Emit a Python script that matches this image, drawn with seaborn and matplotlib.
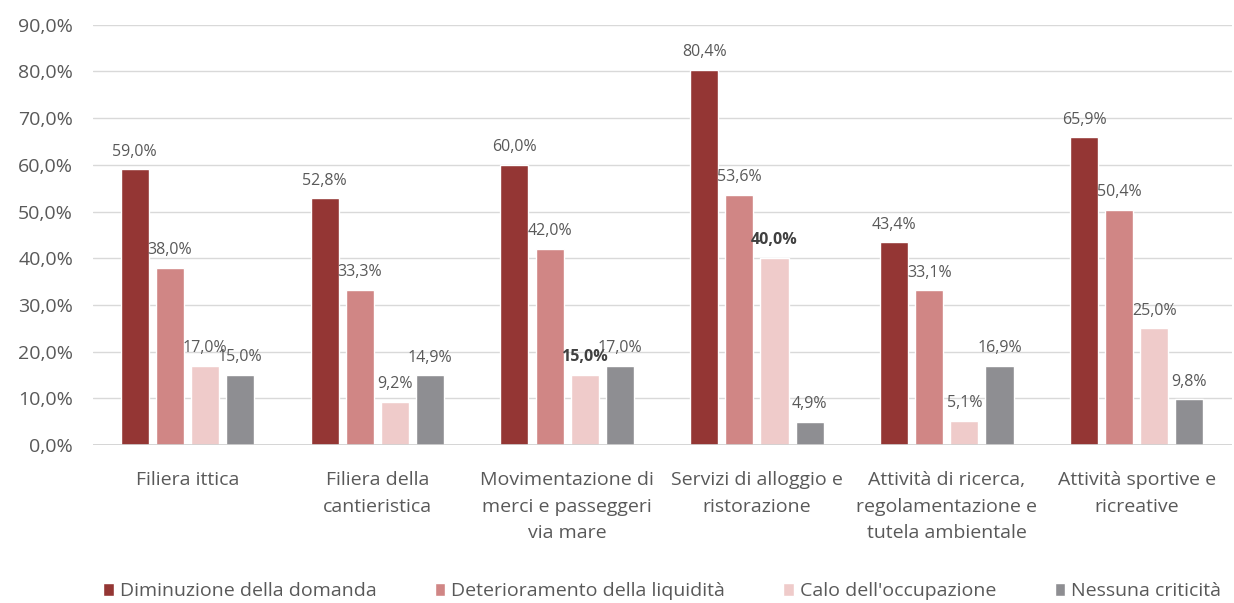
import matplotlib
matplotlib.use("Agg")
import matplotlib.pyplot as plt
import pandas as pd
import seaborn as sns

# data
categories = [
    "Filiera ittica",
    "Filiera della\ncantieristica",
    "Movimentazione di\nmerci e passeggeri\nvia mare",
    "Servizi di alloggio e\nristorazione",
    "Attività di ricerca,\nregolamentazione e\ntutela ambientale",
    "Attività sportive e\nricreative",
]
series = [
    "Diminuzione della domanda",
    "Deterioramento della liquidità",
    "Calo dell'occupazione",
    "Nessuna criticità",
]
diminuzione = [59.0, 52.8, 60.0, 80.4, 43.4, 65.9]
liquidita = [38.0, 33.3, 42.0, 53.6, 33.1, 50.4]
occupazione = [17.0, 9.2, 15.0, 40.0, 5.1, 25.0]
nessuna = [15.0, 14.9, 17.0, 4.9, 16.9, 9.8]
colors = ["#943634", "#D08685", "#EFCBCA", "#8E8E92"]

rows = []
for name, vals in zip(series, [diminuzione, liquidita, occupazione, nessuna]):
    for cat, v in zip(categories, vals):
        rows.append({"categoria": cat, "serie": name, "valore": v})
df = pd.DataFrame(rows)

sns.set_style("white")
plt.rcParams["font.family"] = ["Open Sans", "DejaVu Sans"]
text_col = "#595959"

fig = plt.figure(figsize=(12.34, 6.03), dpi=100)
ax = fig.add_axes([0.075, 0.262, 0.923, 0.697])

sns.barplot(data=df, x="categoria", y="valore", hue="serie", palette=colors,
            width=0.74, gap=0.2, ax=ax, saturation=1, legend=True)

ax.set_ylim(0, 90)
ax.set_yticks(range(0, 91, 10))
ax.set_yticklabels([f"{t},0%" for t in range(0, 91, 10)], color=text_col, fontsize=14)
ax.set_xticks(range(len(categories)))
ax.set_xticklabels(categories, color=text_col, fontsize=14, linespacing=1.6, va="top")
ax.tick_params(axis="x", length=0, pad=19)
ax.tick_params(axis="y", length=0, pad=14)
ax.set_xlabel("")
ax.set_ylabel("")
ax.set_xlim(-0.5, len(categories) - 0.5)
ax.grid(axis="y", color="#D9D9D9", linewidth=1)
ax.set_axisbelow(True)
for s in ax.spines.values():
    s.set_visible(False)
ax.axhline(0, color="#D0D0D0", linewidth=1.2)

for i, cont in enumerate(ax.containers):
    labels = [f"{v:.1f}%".replace(".", ",") for v in cont.datavalues]
    texts = ax.bar_label(cont, labels=labels, padding=7, fontsize=11.5, color=text_col)
    if i == 2:
        for j, t in enumerate(texts):
            if j in (2, 3):
                t.set_color("#404040")
                t.set_fontweight("bold")

ax.legend(loc="center", bbox_to_anchor=(0.5, -0.348), ncol=4, frameon=False,
          fontsize=14, handlelength=0.55, handleheight=0.7, handletextpad=0.3,
          columnspacing=3.0, labelcolor=text_col)

fig.savefig("out.png", dpi=100)
